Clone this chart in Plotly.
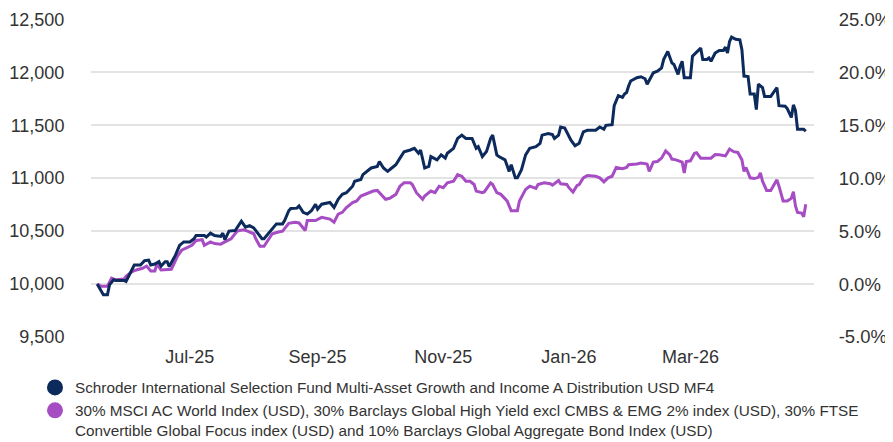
import plotly.graph_objects as go

fund_dates = [
    "2025-05-17", "2025-05-20", "2025-05-22", "2025-05-23", "2025-05-25", "2025-05-26", "2025-05-30", "2025-05-31",
    "2025-06-02", "2025-06-04", "2025-06-07", "2025-06-09", "2025-06-11", "2025-06-12", "2025-06-14", "2025-06-16",
    "2025-06-17", "2025-06-19", "2025-06-20", "2025-06-21", "2025-06-24", "2025-06-26", "2025-06-28",
    "2025-07-01", "2025-07-03", "2025-07-04", "2025-07-08", "2025-07-09", "2025-07-11", "2025-07-13", "2025-07-16",
    "2025-07-17", "2025-07-18", "2025-07-20", "2025-07-23", "2025-07-24", "2025-07-26", "2025-07-28", "2025-07-30",
    "2025-08-01", "2025-08-02", "2025-08-05", "2025-08-06", "2025-08-08", "2025-08-10", "2025-08-12", "2025-08-15",
    "2025-08-16", "2025-08-18", "2025-08-19", "2025-08-22", "2025-08-23", "2025-08-25", "2025-08-27", "2025-08-29",
    "2025-08-31", "2025-09-01", "2025-09-03", "2025-09-07", "2025-09-09", "2025-09-11", "2025-09-13", "2025-09-15",
    "2025-09-18", "2025-09-19", "2025-09-22", "2025-09-23", "2025-09-25", "2025-09-27", "2025-09-30",
    "2025-10-01", "2025-10-03", "2025-10-05", "2025-10-07", "2025-10-09", "2025-10-11", "2025-10-13", "2025-10-16",
    "2025-10-18", "2025-10-20", "2025-10-21", "2025-10-23", "2025-10-25", "2025-10-26", "2025-10-29", "2025-10-31",
    "2025-11-02", "2025-11-03", "2025-11-06", "2025-11-08", "2025-11-10", "2025-11-12", "2025-11-15", "2025-11-17",
    "2025-11-18", "2025-11-20", "2025-11-22", "2025-11-24", "2025-11-25", "2025-11-27", "2025-11-28",
    "2025-12-01", "2025-12-03", "2025-12-04", "2025-12-06", "2025-12-07", "2025-12-09", "2025-12-11", "2025-12-13",
    "2025-12-16", "2025-12-18", "2025-12-19", "2025-12-22", "2025-12-24", "2025-12-25", "2025-12-27", "2025-12-28",
    "2025-12-30", "2026-01-01", "2026-01-02", "2026-01-04", "2026-01-06", "2026-01-08", "2026-01-10", "2026-01-14",
    "2026-01-16", "2026-01-18", "2026-01-19", "2026-01-22", "2026-01-23", "2026-01-25", "2026-01-27", "2026-01-28",
    "2026-01-29", "2026-01-30", "2026-01-31", "2026-02-03", "2026-02-05", "2026-02-07", "2026-02-08", "2026-02-11",
    "2026-02-13", "2026-02-15", "2026-02-16", "2026-02-18", "2026-02-20", "2026-02-21", "2026-02-23", "2026-02-24",
    "2026-02-25", "2026-02-26", "2026-03-01", "2026-03-02", "2026-03-05", "2026-03-06", "2026-03-07", "2026-03-09",
    "2026-03-10", "2026-03-11", "2026-03-13", "2026-03-15", "2026-03-17", "2026-03-18", "2026-03-19", "2026-03-20",
    "2026-03-21", "2026-03-23", "2026-03-25", "2026-03-26", "2026-03-27", "2026-03-29", "2026-03-30", "2026-04-01",
    "2026-04-02", "2026-04-03", "2026-04-05", "2026-04-06", "2026-04-09", "2026-04-12", "2026-04-13", "2026-04-16",
    "2026-04-17", "2026-04-19", "2026-04-20", "2026-04-21", "2026-04-22", "2026-04-25", "2026-04-26",
]
fund_values = [
    10000, 9900, 9900, 9993, 10040, 10034, 10034, 10025,
    10102, 10180, 10180, 10221, 10226, 10180, 10189, 10211,
    10170, 10211, 10211, 10165, 10273, 10366, 10398,
    10398, 10428, 10459, 10459, 10444, 10481, 10459, 10450,
    10481, 10419, 10500, 10506, 10537, 10593, 10537, 10552,
    10531, 10506, 10428, 10428, 10475, 10521, 10568, 10568,
    10599, 10692, 10714, 10717, 10738, 10677, 10661, 10692,
    10754, 10708, 10754, 10770, 10723, 10801, 10847, 10863,
    10924, 10971, 10987, 11033, 11064, 11096, 11111,
    11157, 11096, 11064, 11096, 11127, 11189, 11250, 11266,
    11282, 11235, 11266, 11096, 11111, 11204, 11173, 11220,
    11189, 11235, 11282, 11375, 11406, 11375, 11375, 11282,
    11297, 11204, 11251, 11375, 11406, 11220, 11204,
    11173, 11064, 11127, 11003, 11003, 11080, 11220, 11282,
    11297, 11329, 11406, 11422, 11412, 11375, 11406, 11483,
    11474, 11406, 11359, 11306, 11329, 11437, 11452, 11452,
    11483, 11462, 11499, 11505, 11685, 11779, 11762, 11794,
    11809, 11871, 11918, 11949, 11958, 11939, 11887, 11995,
    12011, 12042, 12120, 12197, 12088, 12073, 11980, 12058,
    12104, 11949, 11949, 12151, 12213, 12228, 12120, 12120,
    12135, 12104, 12181, 12206, 12206, 12237, 12181, 12290,
    12332, 12312, 12306, 12213, 11964, 11960, 11794, 11794,
    11648, 11887, 11855, 11772, 11772, 11855, 11685, 11679,
    11657, 11573, 11692, 11639, 11462, 11462, 11443,
]

bench_dates = [
    "2025-05-17", "2025-05-19", "2025-05-22", "2025-05-24", "2025-05-26", "2025-05-30", "2025-05-31",
    "2025-06-03", "2025-06-05", "2025-06-08", "2025-06-10", "2025-06-12", "2025-06-14", "2025-06-15", "2025-06-17",
    "2025-06-20", "2025-06-22", "2025-06-23", "2025-06-25", "2025-06-27", "2025-06-29",
    "2025-07-02", "2025-07-04", "2025-07-07", "2025-07-08", "2025-07-11", "2025-07-13", "2025-07-16", "2025-07-18",
    "2025-07-21", "2025-07-24", "2025-07-27", "2025-07-29",
    "2025-08-01", "2025-08-02", "2025-08-04", "2025-08-06", "2025-08-08", "2025-08-10", "2025-08-13", "2025-08-15",
    "2025-08-18", "2025-08-21", "2025-08-23", "2025-08-26", "2025-08-27", "2025-08-31",
    "2025-09-03", "2025-09-07", "2025-09-09", "2025-09-11", "2025-09-13", "2025-09-15", "2025-09-18", "2025-09-20",
    "2025-09-22", "2025-09-25", "2025-09-28", "2025-09-30",
    "2025-10-02", "2025-10-04", "2025-10-06", "2025-10-09", "2025-10-11", "2025-10-13", "2025-10-16", "2025-10-17",
    "2025-10-19", "2025-10-22", "2025-10-23", "2025-10-26", "2025-10-28", "2025-10-30",
    "2025-11-01", "2025-11-03", "2025-11-06", "2025-11-08", "2025-11-10", "2025-11-12", "2025-11-14", "2025-11-16",
    "2025-11-17", "2025-11-20", "2025-11-21", "2025-11-24", "2025-11-25", "2025-11-27", "2025-11-29",
    "2025-12-02", "2025-12-04", "2025-12-07", "2025-12-08", "2025-12-11", "2025-12-13", "2025-12-16", "2025-12-17",
    "2025-12-20", "2025-12-23", "2025-12-24", "2025-12-27", "2025-12-28", "2025-12-31",
    "2026-01-01", "2026-01-03", "2026-01-05", "2026-01-06", "2026-01-08", "2026-01-10", "2026-01-14", "2026-01-16",
    "2026-01-18", "2026-01-20", "2026-01-22", "2026-01-24", "2026-01-27", "2026-01-29", "2026-01-30",
    "2026-02-03", "2026-02-05", "2026-02-08", "2026-02-09", "2026-02-11", "2026-02-13", "2026-02-15", "2026-02-17",
    "2026-02-19", "2026-02-20", "2026-02-22", "2026-02-25", "2026-02-26", "2026-02-27",
    "2026-03-01", "2026-03-03", "2026-03-04", "2026-03-06", "2026-03-11", "2026-03-13", "2026-03-15", "2026-03-18",
    "2026-03-20", "2026-03-22", "2026-03-24", "2026-03-26", "2026-03-27", "2026-03-28", "2026-03-30",
    "2026-04-01", "2026-04-03", "2026-04-04", "2026-04-05", "2026-04-07", "2026-04-09", "2026-04-12", "2026-04-13",
    "2026-04-15", "2026-04-17", "2026-04-19", "2026-04-20", "2026-04-21", "2026-04-22", "2026-04-24", "2026-04-25",
    "2026-04-26",
]
bench_values = [
    10000, 9979, 9979, 10056, 10040, 10047, 10072,
    10118, 10133, 10149, 10170, 10124, 10124, 10189, 10133,
    10133, 10140, 10180, 10264, 10319, 10335,
    10366, 10412, 10419, 10366, 10398, 10382, 10377, 10398,
    10428, 10500, 10512, 10500,
    10475, 10428, 10357, 10357, 10412, 10475, 10491, 10500,
    10574, 10584, 10577, 10506, 10599, 10599,
    10630, 10614, 10584, 10661, 10677, 10723, 10770, 10785,
    10831, 10854, 10878, 10884,
    10847, 10801, 10810, 10847, 10924, 10956, 10956, 10940,
    10863, 10801, 10832, 10878, 10863, 10924,
    10910, 10956, 10971, 11033, 11018, 10971, 10971, 10940,
    10878, 10863, 10872, 10956, 10940, 10863, 10847,
    10785, 10692, 10692, 10785, 10894, 10924, 10903, 10940,
    10956, 10947, 10934, 10978, 10947, 10940,
    10910, 10869, 10931, 10940, 11003, 11024, 11018, 11003,
    10965, 11003, 11018, 11102, 11089, 11102, 11127,
    11133, 11142, 11133, 11064, 11152, 11157, 11189, 11257,
    11220, 11180, 11173, 11152, 11049, 11157,
    11164, 11235, 11241, 11189, 11189, 11222, 11220, 11210,
    11275, 11250, 11243, 11173, 11064, 11101, 11003,
    10996, 11008, 11049, 10971, 10884, 10884, 10984, 10924,
    10785, 10785, 10810, 10872, 10738, 10677, 10670, 10635,
    10754,
]

fund_name = "Schroder International Selection Fund Multi-Asset Growth and Income A Distribution USD MF4"
bench_name = ("30% MSCI AC World Index (USD), 30% Barclays Global High Yield excl CMBS & EMG 2% index (USD), 30% FTSE<br>"
              "Convertible Global Focus index (USD) and 10% Barclays Global Aggregate Bond Index (USD)")

left_ticks = [9500, 10000, 10500, 11000, 11500, 12000, 12500]
left_tick_text = ["9,500", "10,000", "10,500", "11,000", "11,500", "12,000", "12,500"]
right_ticks = [-5, 0, 5, 10, 15, 20, 25]
right_tick_text = ["-5.0%", "0.0%", "5.0%", "10.0%", "15.0%", "20.0%", "25.0%"]

navy = "#0c2a5b"
purple = "#a64dc4"
font_family = "Arial, Liberation Sans, sans-serif"

fig = go.Figure()
fig.add_trace(go.Scatter(x=bench_dates, y=bench_values, mode="lines",
                         line=dict(color=purple, width=3), showlegend=False, hoverinfo="skip"))
fig.add_trace(go.Scatter(x=fund_dates, y=fund_values, mode="lines",
                         line=dict(color=navy, width=3), showlegend=False, hoverinfo="skip"))
# legend entries (circle symbols)
fig.add_trace(go.Scatter(x=[None], y=[None], mode="markers", name=fund_name,
                         marker=dict(color=navy, size=16, symbol="circle")))
fig.add_trace(go.Scatter(x=[None], y=[None], mode="markers", name=bench_name,
                         marker=dict(color=purple, size=16, symbol="circle")))
# helper so the right-hand axis is drawn
fig.add_trace(go.Scatter(x=[fund_dates[0]], y=[0], yaxis="y2", mode="markers",
                         marker=dict(opacity=0), showlegend=False, hoverinfo="skip"))

# the page body has an 8px margin, so the figure is sized to fill the rest of the window
fig.update_layout(
    width=885, height=434,
    margin=dict(l=83, r=79, t=11, b=105, autoexpand=False),
    paper_bgcolor="white", plot_bgcolor="white",
    font=dict(family=font_family, color="#333333"),
    xaxis=dict(
        type="date", automargin=False,
        range=["2025-05-14", "2026-04-30"],
        tick0="2025-07-01", dtick="M2", tickformat="%b-%y",
        showgrid=False, zeroline=False, showline=False,
        ticks="outside", ticklen=3, tickcolor="rgba(0,0,0,0)",
        tickfont=dict(size=18, color="#333333"),
    ),
    yaxis=dict(
        automargin=False, ticklabeloverflow="allow",
        range=[9500, 12503], tickvals=left_ticks, ticktext=left_tick_text,
        showgrid=True, gridcolor="#e3e3e3", gridwidth=2,
        zeroline=False, showline=False,
        ticks="outside", ticklen=22, tickcolor="rgba(0,0,0,0)",
        tickfont=dict(size=18, color="#333333"),
    ),
    yaxis2=dict(
        automargin=False, ticklabeloverflow="allow",
        overlaying="y", side="right",
        range=[-5, 25.03], tickvals=right_ticks, ticktext=right_tick_text,
        showgrid=False, zeroline=False, showline=False,
        ticks="outside", ticklen=20, tickcolor="rgba(0,0,0,0)",
        tickfont=dict(size=18.5, color="#333333"),
    ),
    legend=dict(
        xref="container", yref="container",
        x=0.0305, xanchor="left", y=0.1636, yanchor="top",
        font=dict(size=15.3, color="#333333"),
        valign="top", tracegroupgap=0, bgcolor="rgba(0,0,0,0)",
    ),
    showlegend=True,
)

fig.write_html("out.html")
